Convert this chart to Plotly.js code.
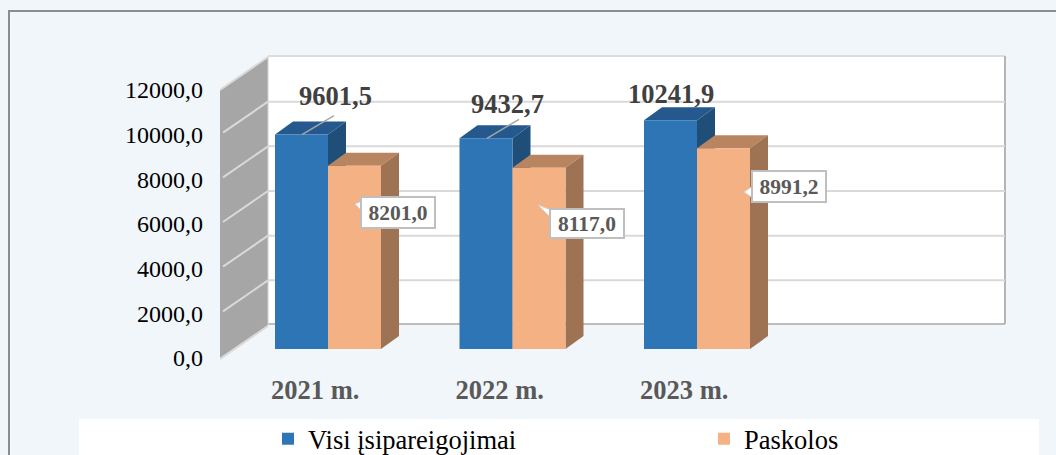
<!DOCTYPE html>
<html><head><meta charset="utf-8">
<script src="https://cdn.plot.ly/plotly-3.0.1.min.js"></script>
<style>html,body{margin:0;padding:0;background:#f1f6fb}#c{width:1056px;height:455px}</style></head>
<body><div id="c"></div>
<script>
const categories = ['2021 m.', '2022 m.', '2023 m.'];
const seriesNames = ['Visi įsipareigojimai', 'Paskolos'];
const visi = [9601.5, 9432.7, 10241.9];
const paskolos = [8201.0, 8117.0, 8991.2];
const visiLabels = ['9601,5', '9432,7', '10241,9'];
const paskolosLabels = ['8201,0', '8117,0', '8991,2'];
const axisTicks = [0, 2000, 4000, 6000, 8000, 10000, 12000];
const axisTickLabels = ['0,0', '2000,0', '4000,0', '6000,0', '8000,0', '10000,0', '12000,0'];

const W = 1056, H = 455;
const plotL = 220, plotR = 1010, plotT = 40, plotB = 363;
const band = 184.5, k = 268 / 12000;
const x0px = plotL + band / 2;
const wallDX = 48, wallDY = 33, floorFront = 358, floorBars = 349;
const barW = 53, depthDX = 18, depthDY = 13;
const dx = p => p / band;
const dyv = p => p / k;
const xAt = p => (p - x0px) / band;
const offBlue = xAt(275), offOrange = xAt(328), wB = dx(barW);
const serif = '"Liberation Serif", "Times New Roman", serif';
const backX = xAt(plotL + wallDX), rightX = xAt(1005), leftX = xAt(plotL);
const backZero = dyv(floorFront - 324);

const shapes = [];
const poly = (pts, fill, layer, yref) => shapes.push({type:'path', xref:'x', yref:yref||'y', layer:layer||'between',
  path:'M' + pts.map(p => p[0] + ',' + p[1]).join('L') + 'Z', fillcolor:fill, line:{width:0}});
const seg = (x0, x1, y0, y1, color, width) => shapes.push({type:'line', xref:'x', yref:'y2', layer:'below', x0, x1, y0, y1, line:{color, width}});

shapes.push({type:'rect', xref:'x', yref:'y2', layer:'below', x0:backX, x1:rightX, y0:backZero, y1:backZero + 12000, fillcolor:'#ffffff', line:{width:0}});
seg(backX, rightX, backZero + 12000, backZero + 12000, '#dcdcdc', 2);
seg(backX, rightX, backZero, backZero, '#bdbdbd', 2);
seg(rightX, rightX, backZero, backZero + 12000, '#b5b5b5', 2);
poly([[leftX,0],[leftX,12000],[backX,12000+dyv(wallDY)],[backX,dyv(wallDY)]], '#a6a6a6', 'below', 'y2');
seg(leftX, backX, -dyv(1), dyv(wallDY-1), '#d9d9d9', 2);
seg(leftX, backX, 12000, 12000 + dyv(wallDY), '#d9d9d9', 2);
seg(backX, backX, dyv(wallDY), 12000 + dyv(wallDY), '#d0d0d0', 1);
axisTicks.slice(1, -1).forEach(t => {
  seg(xAt(plotL+3), backX, t + dyv(2), t + dyv(wallDY), '#d9d9d9', 2);
  seg(backX, rightX, t + dyv(wallDY), t + dyv(wallDY), '#d9d9d9', 2);
});
categories.forEach((c, i) => {
  const bx = i + offBlue, ox = i + offOrange, ddx = dx(depthDX), ddy = dyv(depthDY);
  const bv = visi[i], ov = paskolos[i];
  poly([[bx+wB,0],[bx+wB,bv],[bx+wB+ddx,bv+ddy],[bx+wB+ddx,ddy]], '#1f4e79');
  poly([[bx,bv],[bx+wB,bv],[bx+wB+ddx,bv+ddy],[bx+ddx,bv+ddy]], '#25598e');
  poly([[ox,ov],[ox+wB,ov],[ox+wB+ddx,ov+ddy],[ox+ddx,ov+ddy]], '#b98561');
  poly([[ox+wB,0],[ox+wB,ov],[ox+wB+ddx,ov+ddy],[ox+wB+ddx,ddy]], '#9e7353');
});

const xs = categories.map((c, i) => i);
const topLabelPos = [[335, 96], [507, 104], [671, 94]];
const boxLabelPos = [[398, 212.5], [586.5, 223], [789, 186.5]];
const pointerTip = [[355, 204], [538, 205], [744, 192]];
const pointerBase = [[362, 201, 362, 211], [551, 210, 551, 218], [753, 186, 753, 198]];
const leaderPx = [[[302,134],[334,115]], [[487,138],[519,119]]];
const pxToY = p => (floorBars - p) / k;

const annotations = [];
categories.forEach((c, i) => {
  annotations.push({x:xAt(topLabelPos[i][0]), y:pxToY(topLabelPos[i][1]), xref:'x', yref:'y', text:'<b>'+visiLabels[i]+'</b>',
    showarrow:false, font:{family:serif, size:26.5, color:'#404040'}, xanchor:'center', yanchor:'middle'});
  annotations.push({x:xAt(boxLabelPos[i][0]), y:pxToY(boxLabelPos[i][1]), xref:'x', yref:'y', text:'<b>'+paskolosLabels[i]+'</b>',
    showarrow:false, font:{family:serif, size:21.5, color:'#595959'}, xanchor:'center', yanchor:'middle',
    bgcolor:'#ffffff', bordercolor:'#bfbfbf', borderwidth:2, borderpad:0, width:72, height:i === 1 ? 27 : 29});
});

const traces = [
  {type:'bar', name:seriesNames[0], legend:'legend', x:xs, y:visi, width:wB, offset:offBlue, marker:{color:'#2e75b6', line:{width:0}}, hoverinfo:'skip'},
  {type:'bar', name:seriesNames[1], legend:'legend2', x:xs, y:paskolos, width:wB, offset:offOrange, marker:{color:'#f4b183', line:{width:0}}, hoverinfo:'skip'}
];
leaderPx.forEach((s, i) => traces.push({type:'scatter', mode:'lines', showlegend:false, hoverinfo:'skip',
  x:[xAt(s[0][0]), xAt(s[1][0])], y:[visi[i], visi[i] + dyv(s[0][1]-s[1][1])], line:{color:'#a6a6a6', width:1.5}}));
pointerTip.forEach((tip, i) => {
  const b = pointerBase[i];
  traces.push({type:'scatter', mode:'lines', fill:'toself', fillcolor:'#ffffff', showlegend:false, hoverinfo:'skip',
    x:[xAt(tip[0]), xAt(b[0]), xAt(b[2]), xAt(tip[0])], y:[pxToY(tip[1]), pxToY(b[1]), pxToY(b[3]), pxToY(tip[1])], line:{color:'#d4d4d4', width:1}});
});
traces.push({type:'scatter', mode:'none', x:[leftX], y:[0], yaxis:'y2', showlegend:false, hoverinfo:'skip'});

const px = p => (p - plotL) / (plotR - plotL), py = p => (plotB - p) / (plotB - plotT);
const legendBase = {xref:'container', y:1-415/H, yref:'container', xanchor:'left', yanchor:'top',
  font:{family:serif, size:26.5, color:'#000000'}, bgcolor:'rgba(0,0,0,0)', borderwidth:0};
const layout = {
  width:W, height:H, autosize:false, paper_bgcolor:'#f1f6fb', plot_bgcolor:'rgba(0,0,0,0)', showlegend:true, barmode:'overlay',
  margin:{l:plotL, r:W-plotR, t:plotT, b:H-plotB, pad:0, autoexpand:false},
  xaxis:{type:'linear', range:[xAt(plotL), xAt(plotR)], tickmode:'array', tickvals:xs.map(v => v + dx(3)), ticktext:categories.map(c => '<b>'+c+'</b>'), tickangle:0,
    tickfont:{family:serif, size:26.5, color:'#595959'}, ticks:'', showgrid:false, zeroline:false, showline:false, ticklabelstandoff:8, fixedrange:true},
  yaxis:{range:[(floorBars-plotB)/k, (floorBars-plotT)/k], showticklabels:false, ticks:'', showgrid:false, zeroline:false, showline:false, fixedrange:true},
  yaxis2:{overlaying:'y', side:'left', range:[(floorFront-plotB)/k, (floorFront-plotT)/k], tickmode:'array', tickvals:axisTicks, ticktext:axisTickLabels,
    tickfont:{family:serif, size:24, color:'#000000'}, ticks:'', showgrid:false, zeroline:false, showline:false, ticklabelstandoff:16, fixedrange:true},
  legend:Object.assign({}, legendBase, {x:268/W}),
  legend2:Object.assign({}, legendBase, {x:704/W}),
  shapes:shapes.concat([
    {type:'rect', xref:'paper', yref:'paper', layer:'below', x0:px(79), x1:px(1039), y0:py(419), y1:py(460), fillcolor:'#ffffff', line:{width:0}},
    {type:'line', xref:'paper', yref:'paper', layer:'below', x0:px(9), x1:px(9), y0:py(10), y1:py(460), line:{color:'#8c8c8c', width:2}},
    {type:'line', xref:'paper', yref:'paper', layer:'below', x0:px(8), x1:px(1060), y0:py(11), y1:py(11), line:{color:'#8c8c8c', width:2}}
  ]),
  annotations:annotations
};
Plotly.newPlot('c', traces, layout, {displayModeBar:false, staticPlot:true});
</script></body></html>
